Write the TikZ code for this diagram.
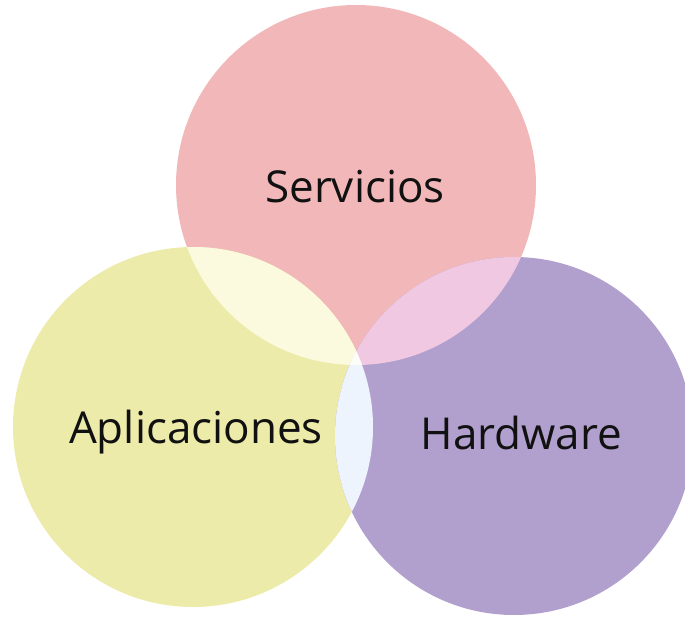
\documentclass[tikz,border=0pt]{standalone}
\usepackage{fontspec}
\setmainfont{Open Sans}
\definecolor{cpink}{HTML}{F2B8B9}
\definecolor{cyellow}{HTML}{EDEBAA}
\definecolor{cpurple}{HTML}{B1A0CD}
\definecolor{cpy}{HTML}{FBFADF}
\definecolor{cpp}{HTML}{F1C8E2}
\definecolor{cyp}{HTML}{EEF4FD}
\definecolor{ctriple}{HTML}{FDFDF8}
\definecolor{ctext}{HTML}{111111}
\begin{document}
\begin{tikzpicture}[x=1pt,y=-1pt,
  lbl/.style={anchor=base,font=\fontsize{44}{50}\selectfont,text=ctext,inner sep=0pt}]
\useasboundingbox (0,0) rectangle (685,617);
\clip (0,0) rectangle (685,617);
\fill[cpink] (356,185) circle[radius=180];
\fill[cyellow] (193,427) circle[radius=180];
\fill[cpurple] (514,436) circle[radius=179];
\begin{scope}
  \clip (356,185) circle[radius=180];
  \fill[cpy] (193,427) circle[radius=180];
  \fill[cpp] (514,436) circle[radius=179];
\end{scope}
\begin{scope}
  \clip (193,427) circle[radius=180];
  \fill[cyp] (514,436) circle[radius=179];
  \clip (514,436) circle[radius=179];
  \fill[ctriple] (356,185) circle[radius=180];
\end{scope}
\node[lbl] (serv) at (355,203) {Servicios};
\node[lbl] (apli) at (196,443) {Aplicaciones};
\node[lbl] (hard) at (521.5,449) {Hardware};
\end{tikzpicture}
\end{document}
